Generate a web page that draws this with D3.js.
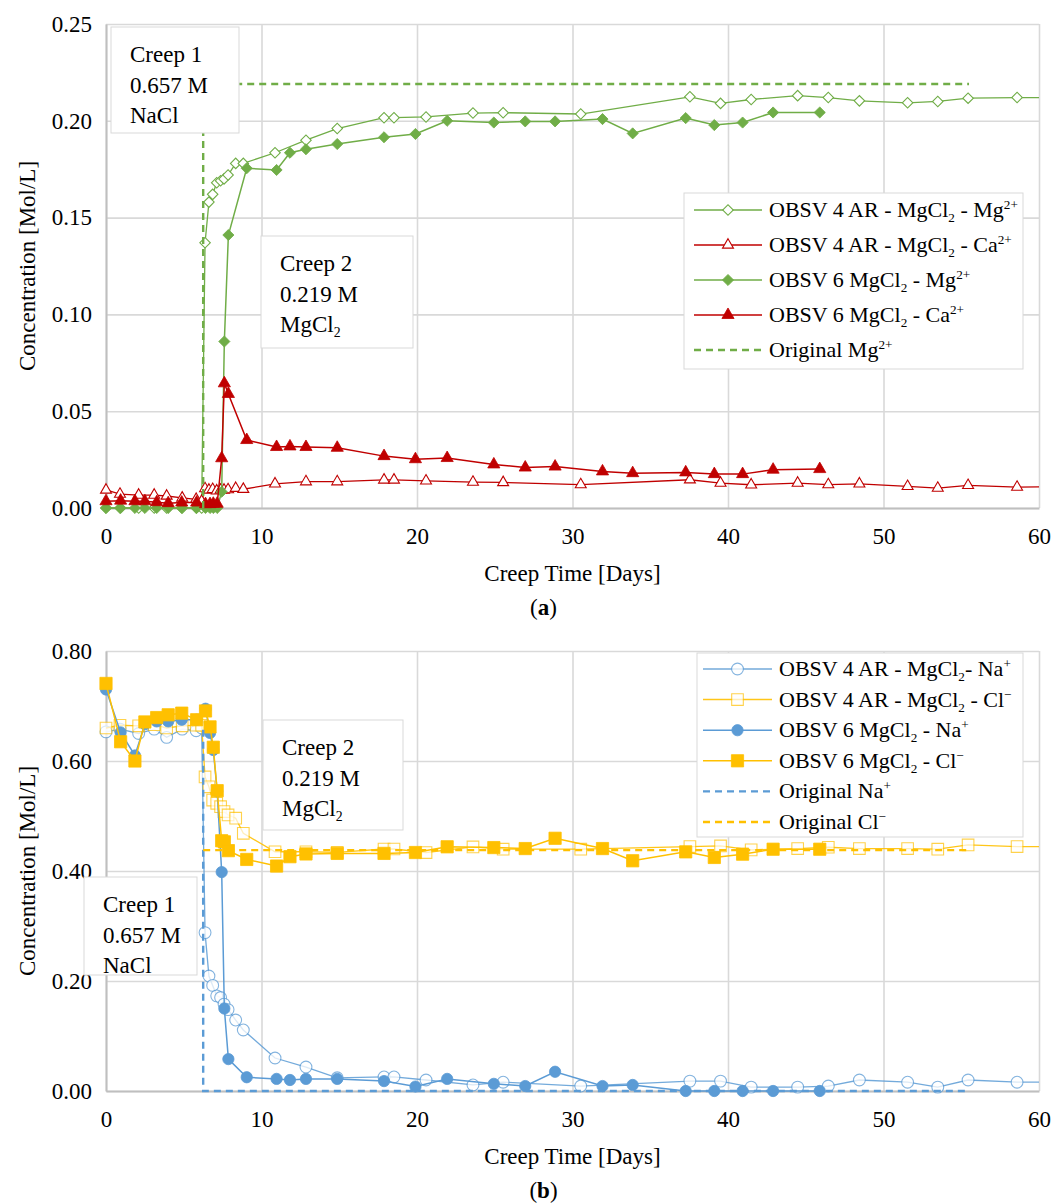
<!DOCTYPE html>
<html>
<head>
<meta charset="utf-8">
<script src="https://cdn.jsdelivr.net/npm/d3@7"></script>
<style>
  body { margin: 0; background: #fff; }
  svg { display: block; }
</style>
</head>
<body>
<svg id="fig" width="1064" height="1203"></svg>
<script>
// ---------- data ----------
const xTicks = [0, 10, 20, 30, 40, 50, 60];
const yTicksA = [0, 0.05, 0.10, 0.15, 0.20, 0.25];
const yTicksB = [0, 0.20, 0.40, 0.60, 0.80];

// sampling days of the two tests
const daysObsv4 = [0, 0.9, 2.1, 3.1, 3.9, 4.9, 5.8, 6.15, 6.37, 6.62, 6.86, 7.12, 7.37, 7.59, 7.85, 8.34, 8.83,
  10.87, 12.86, 14.87, 17.88, 18.52, 20.58, 23.6, 25.54, 30.53, 37.55, 39.52, 41.49, 44.48, 46.45, 48.45,
  51.55, 53.49, 55.44, 58.59, 61.5];
const daysObsv6 = [0, 0.94, 1.86, 2.5, 3.26, 4.0, 4.87, 5.83, 6.4, 6.69, 6.9, 7.15, 7.44, 7.61, 7.87,
  9.05, 10.97, 11.83, 12.86, 14.87, 17.88, 19.9, 21.94, 24.94, 26.96, 28.88, 31.93, 33.87, 37.28, 39.12,
  40.94, 42.9, 45.9];

// (a) Mg / Ca
const mgObsv4 = [0, 0, 0, 0, 0, 0, 0, 0, 0.137, 0.158, 0.162, 0.168, 0.169, 0.170, 0.172, 0.178, 0.178,
  0.1835, 0.190, 0.196, 0.2016, 0.2016, 0.202, 0.204, 0.2042, 0.2035, 0.2124, 0.209, 0.211, 0.213, 0.212, 0.2103,
  0.2093, 0.210, 0.2117, 0.212, 0.212];
const caObsv4 = [0.0093, 0.0072, 0.0067, 0.0067, 0.0062, 0.0052, 0.0045, 0.0035, 0.0100, 0.0093, 0.0096, 0.0089,
  0.0093, 0.0093, 0.0095, 0.0102, 0.0097, 0.0125, 0.0136, 0.0136, 0.0145, 0.0145, 0.0140, 0.0134, 0.0132, 0.0121,
  0.0146, 0.0129, 0.0120, 0.0129, 0.0121, 0.0125, 0.0112, 0.0103, 0.0117, 0.0108, 0.0110];
const mgObsv6 = [0, 0, 0, 0, 0, 0, 0, 0, 0, 0, 0, 0, 0.0084, 0.086, 0.141,
  0.1755, 0.1746, 0.1835, 0.1853, 0.188, 0.1915, 0.1932, 0.200, 0.1991, 0.1997, 0.1997,
  0.2009, 0.1935, 0.2014, 0.1978, 0.1991, 0.2043, 0.2043];
const caObsv6 = [0.0035, 0.0038, 0.0035, 0.0035, 0.0030, 0.0025, 0.0028, 0.0028, 0.0020, 0.0020, 0.0022, 0.0022,
  0.0257, 0.0644, 0.0589, 0.0351, 0.0315, 0.0318, 0.0315, 0.0311, 0.0268, 0.0252, 0.0258, 0.0225, 0.0209, 0.0214,
  0.0189, 0.0180, 0.0184, 0.0175, 0.0175, 0.0198, 0.0201];
const origMgDays = [6.25, 6.25, 55.5];
const origMg = [0, 0.219, 0.219];

// (b) Na / Cl
const naObsv4 = [0.653, 0.658, 0.650, 0.658, 0.643, 0.658, 0.655, 0.660, 0.288, 0.209, 0.192, 0.173, 0.170, 0.158,
  0.148, 0.129, 0.111, 0.060, 0.0436, 0.024, 0.0255, 0.0255, 0.020, 0.011, 0.016, 0.009, 0.018, 0.018, 0.007,
  0.007, 0.009, 0.020, 0.016, 0.007, 0.020, 0.016, 0.016];
const clObsv4 = [0.660, 0.665, 0.664, 0.666, 0.660, 0.664, 0.665, 0.665, 0.571, 0.553, 0.529, 0.523, 0.517, 0.508,
  0.502, 0.496, 0.4685, 0.435, 0.435, 0.434, 0.440, 0.440, 0.4336, 0.4438, 0.4396, 0.4396, 0.4444, 0.4456, 0.4384,
  0.4408, 0.4432, 0.4408, 0.4408, 0.4396, 0.4474, 0.4444, 0.4444];
const naObsv6 = [0.730, 0.652, 0.610, 0.667, 0.672, 0.672, 0.675, 0.675, 0.695, 0.651, 0.620, 0.545,
  0.398, 0.150, 0.058, 0.025, 0.022, 0.020, 0.022, 0.022, 0.018, 0.008, 0.022, 0.013, 0.009, 0.035,
  0.009, 0.011, 0, 0, 0, 0, 0];
const clObsv6 = [0.741, 0.635, 0.600, 0.671, 0.679, 0.684, 0.687, 0.675, 0.691, 0.662, 0.625, 0.546,
  0.455, 0.453, 0.437, 0.421, 0.409, 0.426, 0.431, 0.432, 0.432, 0.4336, 0.444, 0.4426, 0.4408, 0.4595,
  0.4408, 0.4186, 0.4348, 0.4246, 0.4306, 0.4396, 0.4396];
const origNaDays = [6.25, 6.25, 55.5];
const origNa = [0.657, 0, 0];
const origClDays = [6.25, 55.5];
const origCl = [0.438, 0.438];

// ---------- look ----------
const FONT = '"Liberation Serif","Times New Roman",serif';
const FS = 23;      // ticks, titles, text boxes
const FS_LEG = 22;  // legend
const GREEN = '#70AD47', RED = '#C00000', BLUE = '#5B9BD5', GOLD = '#FFC000';
const GRID = '#d9d9d9';

const svg = d3.select('#fig').attr('font-family', FONT);
svg.append('rect').attr('width', 1064).attr('height', 1203).attr('fill', '#fff');

const x = d3.scaleLinear().domain([0, 60]).range([106, 1039]);

// text with {_sub} and {^sup} pieces
function richText(sel, str) {
  const parts = str.split(/(\{[_^][^}]*\})/).filter(p => p.length);
  let shift = 0;
  parts.forEach(p => {
    let target = 0, txt = p, small = false;
    if (p.startsWith('{_')) { target = 5; txt = p.slice(2, -1); small = true; }
    else if (p.startsWith('{^')) { target = -8; txt = p.slice(2, -1); small = true; }
    const t = sel.append('tspan').attr('dy', target - shift).text(txt);
    if (small) t.attr('font-size', '0.6em');
    shift = target;
  });
}

function symbolPath(shape, size) {
  const type = { diamond: d3.symbolSquare, square: d3.symbolSquare, triangle: d3.symbolTriangle, circle: d3.symbolCircle }[shape];
  return d3.symbol().type(type).size(size)();
}

function drawMarker(sel, s) {
  sel.attr('d', symbolPath(s.shape, s.size))
    .attr('fill', s.open ? '#fff' : s.color)
    .attr('stroke', s.color)
    .attr('stroke-width', s.open ? 1.1 : 0.8)
    .attr('opacity', s.alpha || 1);
}

function drawPanel(p) {
  const y = p.y;
  const [y0, y1] = y.range();
  const [x0, x1] = x.range();
  const g = svg.append('g');

  // grid
  g.append('g').attr('transform', `translate(0,${y0})`)
    .call(d3.axisBottom(x).tickValues(xTicks).tickSize(-(y0 - y1)).tickFormat(''))
    .call(a => a.select('.domain').remove())
    .selectAll('line').attr('stroke', GRID).attr('stroke-width', 1.6);
  g.append('g').attr('transform', `translate(${x0},0)`)
    .call(d3.axisLeft(y).tickValues(p.yTicks).tickSize(-(x1 - x0)).tickFormat(''))
    .call(a => a.select('.domain').remove())
    .selectAll('line').attr('stroke', GRID).attr('stroke-width', 1.6);

  // axes
  const ax = g.append('g').attr('transform', `translate(0,${y0})`)
    .call(d3.axisBottom(x).tickValues(xTicks).tickSize(0).tickPadding(20).tickFormat(d3.format('d')));
  const ay = g.append('g').attr('transform', `translate(${x0},0)`)
    .call(d3.axisLeft(y).tickValues(p.yTicks).tickSize(0).tickPadding(14).tickFormat(d3.format('.2f')));
  [ax, ay].forEach(a => {
    a.attr('font-family', FONT).attr('font-size', FS);
    a.select('.domain').attr('stroke', '#bfbfbf').attr('stroke-width', 2);
    a.selectAll('text').attr('fill', '#000');
  });

  // axis titles
  g.append('text').attr('x', (x0 + x1) / 2).attr('y', y0 + 73).attr('text-anchor', 'middle')
    .attr('font-size', FS).text('Creep Time [Days]');
  g.append('text').attr('transform', `translate(35,${(y0 + y1) / 2}) rotate(-90)`)
    .attr('text-anchor', 'middle').attr('font-size', FS).text('Concentration [Mol/L]');
  const lab = g.append('text').attr('x', (x0 + x1) / 2 - 29).attr('y', y0 + 107).attr('text-anchor', 'middle').attr('font-size', FS);
  lab.append('tspan').text('(');
  lab.append('tspan').attr('font-weight', 'bold').text(p.tag);
  lab.append('tspan').text(')');

  // series
  const clipId = 'clip-' + p.tag;
  svg.append('clipPath').attr('id', clipId).append('rect')
    .attr('x', 0).attr('y', 0).attr('width', x1).attr('height', 1203);
  const plot = g.append('g').attr('clip-path', `url(#${clipId})`);
  const line = d3.line().x(d => x(d[0])).y(d => y(d[1]));
  p.series.forEach(s => {
    const pts = s.days.map((d, i) => [d, s.vals[i]]);
    plot.append('path').attr('d', line(pts)).attr('fill', 'none')
      .attr('stroke', s.color)
      .attr('stroke-width', s.dash ? 2.4 : (s.open ? 1.3 : 1.5))
      .attr('stroke-dasharray', s.dash ? '7,5' : null)
      .attr('opacity', s.lineAlpha || 1);
    if (!s.shape) return;
    plot.append('g').selectAll('path').data(pts).join('path')
      .attr('transform', d => `translate(${x(d[0])},${y(d[1])})` + (s.shape === 'diamond' ? ' rotate(45)' : ''))
      .call(drawMarker, s);
  });

  // text boxes
  p.boxes.forEach(b => {
    const bg = g.append('g').attr('transform', `translate(${x0 + b.dx},${y1 + b.dy})`);
    bg.append('rect').attr('width', b.w).attr('height', b.h).attr('fill', '#fff')
      .attr('stroke', GRID).attr('stroke-width', 1);
    b.lines.forEach((t, i) => {
      const tx = bg.append('text').attr('x', 19).attr('y', 35 + i * 30.5).attr('font-size', FS);
      richText(tx, t);
    });
  });

  // legend
  const L = p.legend;
  const lg = g.append('g').attr('transform', `translate(${L.x},${L.y})`);
  lg.append('rect').attr('width', L.w).attr('height', L.h).attr('fill', '#fff')
    .attr('stroke', GRID).attr('stroke-width', 1);
  p.series.forEach((s, i) => {
    const row = lg.append('g').attr('transform', `translate(0,${L.top + i * L.step})`);
    row.append('line').attr('x1', L.lx0).attr('x2', L.lx1)
      .attr('stroke', s.color).attr('stroke-width', s.dash ? 2.4 : 1.5)
      .attr('stroke-dasharray', s.dash ? '7,5' : null).attr('opacity', s.lineAlpha || 1);
    if (s.shape) {
      row.append('path').attr('transform', `translate(${(L.lx0 + L.lx1) / 2},0)` + (s.shape === 'diamond' ? ' rotate(45)' : ''))
        .call(drawMarker, s);
    }
    const t = row.append('text').attr('x', L.tx).attr('y', 7).attr('font-size', FS_LEG);
    richText(t, s.label);
  });
}

drawPanel({
  tag: 'a',
  y: d3.scaleLinear().domain([0, 0.25]).range([508, 24]),
  yTicks: yTicksA,
  series: [
    { label: 'OBSV 4 AR - MgCl{_2} - Mg{^2+}', days: daysObsv4, vals: mgObsv4, color: GREEN, shape: 'diamond', size: 55, open: true },
    { label: 'OBSV 4 AR - MgCl{_2} - Ca{^2+}', days: daysObsv4, vals: caObsv4, color: RED, shape: 'triangle', size: 52, open: true },
    { label: 'OBSV 6 MgCl{_2} - Mg{^2+}', days: daysObsv6, vals: mgObsv6, color: GREEN, shape: 'diamond', size: 62 },
    { label: 'OBSV 6 MgCl{_2} - Ca{^2+}', days: daysObsv6, vals: caObsv6, color: RED, shape: 'triangle', size: 64 },
    { label: 'Original Mg{^2+}', days: origMgDays, vals: origMg, color: GREEN, dash: true }
  ],
  boxes: [
    { dx: 5, dy: 3, w: 128, h: 106, lines: ['Creep 1', '0.657 M', 'NaCl'] },
    { dx: 155, dy: 212, w: 152, h: 112, lines: ['Creep 2', '0.219 M', 'MgCl{_2}'] }
  ],
  legend: { x: 684, y: 193, w: 339, h: 176, top: 17, step: 35, lx0: 10, lx1: 78, tx: 85 }
});

drawPanel({
  tag: 'b',
  y: d3.scaleLinear().domain([0, 0.8]).range([1091, 651]),
  yTicks: yTicksB,
  series: [
    { label: 'OBSV 4 AR - MgCl{_2}- Na{^+}', days: daysObsv4, vals: naObsv4, color: BLUE, shape: 'circle', size: 110, open: true, alpha: 0.75, lineAlpha: 0.85 },
    { label: 'OBSV 4 AR - MgCl{_2} - Cl{^−}', days: daysObsv4, vals: clObsv4, color: GOLD, shape: 'square', size: 135, open: true, alpha: 0.7, lineAlpha: 0.9 },
    { label: 'OBSV 6 MgCl{_2} - Na{^+}', days: daysObsv6, vals: naObsv6, color: BLUE, shape: 'circle', size: 100 },
    { label: 'OBSV 6 MgCl{_2} - Cl{^−}', days: daysObsv6, vals: clObsv6, color: GOLD, shape: 'square', size: 150 },
    { label: 'Original Na{^+}', days: origNaDays, vals: origNa, color: BLUE, dash: true },
    { label: 'Original Cl{^−}', days: origClDays, vals: origCl, color: GOLD, dash: true }
  ],
  boxes: [
    { dx: 157, dy: 69, w: 140, h: 110, lines: ['Creep 2', '0.219 M', 'MgCl{_2}'] },
    { dx: -22, dy: 226, w: 113, h: 98, lines: ['Creep 1', '0.657 M', 'NaCl'] }
  ],
  legend: { x: 697, y: 653, w: 326, h: 184, top: 16, step: 30.6, lx0: 6, lx1: 75, tx: 82 }
});
</script>
</body>
</html>
